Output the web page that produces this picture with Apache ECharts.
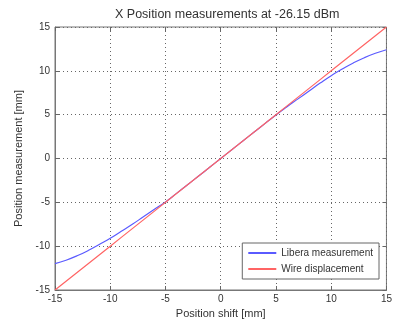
<!DOCTYPE html>
<html>
<head>
<meta charset="utf-8">
<script src="https://cdn.jsdelivr.net/npm/echarts@6/dist/echarts.min.js"></script>
<style>
  html, body { margin: 0; padding: 0; background: #fff; }
  #chart { width: 395px; height: 328px; }
</style>
</head>
<body>
<div id="chart"></div>
<script>
// position shift [mm]
var shift = [-15, -14, -13, -12, -11, -10, -9, -8, -7, -6, -5, -4, -3, -2, -1, 0,
             1, 2, 3, 4, 5, 6, 7, 8, 9, 10, 11, 12, 13, 14, 15];
// Libera measurement [mm]
var libera = [-12.0, -11.6, -11.1, -10.5, -9.8, -9.1, -8.3, -7.5, -6.65, -5.8, -4.95, -3.98, -2.99, -2.0, -1.0, 0,
              1.0, 2.0, 2.99, 3.98, 4.97, 5.9, 6.8, 7.7, 8.6, 9.45, 10.2, 10.9, 11.5, 12.0, 12.4];
// wire displacement [mm]
var wire = [-15, -14, -13, -12, -11, -10, -9, -8, -7, -6, -5, -4, -3, -2, -1, 0,
            1, 2, 3, 4, 5, 6, 7, 8, 9, 10, 11, 12, 13, 14, 15];

var font = 'Liberation Sans, Arial, sans-serif';
var chart = echarts.init(document.getElementById('chart'));

function pairs(xs, ys) {
    return xs.map(function(x, i) { return [x, ys[i]]; });
}

var gridLine = { show: true, lineStyle: { color: '#666', type: [1, 3], width: 1 } };
var tick = { show: true, inside: true, length: 4, lineStyle: { color: '#666' } };

chart.setOption({
    backgroundColor: '#fff',
    animation: false,
    title: {
        text: 'X Position measurements at -26.15 dBm',
        left: 110,
        top: 3,
        textStyle: { fontFamily: font, fontSize: 12.5, fontWeight: 'normal', color: '#333' }
    },
    grid: {
        left: 55, right: 6, top: 27, bottom: 38,
        show: true, borderColor: '#777', borderWidth: 1
    },
    legend: {
        orient: 'vertical',
        right: 16, bottom: 49,
        backgroundColor: '#fff',
        borderColor: '#666',
        borderWidth: 1,
        borderRadius: 0,
        padding: [5, 6, 5, 6],
        itemGap: 6,
        itemWidth: 28,
        itemHeight: 2,
        icon: 'rect',
        textStyle: { fontFamily: font, fontSize: 10, color: '#333' },
        data: ['Libera measurement', 'Wire displacement']
    },
    xAxis: [{
        type: 'value', min: -15, max: 15, interval: 5,
        name: 'Position shift [mm]', nameLocation: 'middle', nameGap: 18,
        nameTextStyle: { fontFamily: font, fontSize: 11, color: '#333' },
        axisLine: { onZero: false, lineStyle: { color: '#777' } },
        axisTick: tick,
        axisLabel: { fontFamily: font, fontSize: 10, color: '#333', margin: 4 },
        splitLine: gridLine
    }, {
        type: 'value', min: -15, max: 15, interval: 5, position: 'top',
        axisLine: { show: false, onZero: false }, axisTick: tick, axisLabel: { show: false },
        splitLine: { show: false }
    }],
    yAxis: [{
        type: 'value', min: -15, max: 15, interval: 5,
        name: 'Position measurement [mm]', nameLocation: 'middle', nameGap: 27,
        nameTextStyle: { fontFamily: font, fontSize: 11, color: '#333' },
        axisLine: { onZero: false, lineStyle: { color: '#777' } },
        axisTick: tick,
        axisLabel: { fontFamily: font, fontSize: 10, color: '#333', margin: 5 },
        splitLine: gridLine
    }, {
        type: 'value', min: -15, max: 15, interval: 5, position: 'right',
        axisLine: { show: false, onZero: false }, axisTick: tick, axisLabel: { show: false },
        splitLine: { show: false }
    }],
    series: [{
        name: 'Libera measurement',
        type: 'line',
        data: pairs(shift, libera),
        smooth: true,
        showSymbol: false,
        color: '#5a5aff',
        lineStyle: { width: 1.2, color: '#5a5aff' }
    }, {
        name: 'Wire displacement',
        type: 'line',
        data: pairs(shift, wire),
        showSymbol: false,
        color: '#ff6464',
        lineStyle: { width: 1.2, color: '#ff6464' }
    }]
});
</script>
</body>
</html>
